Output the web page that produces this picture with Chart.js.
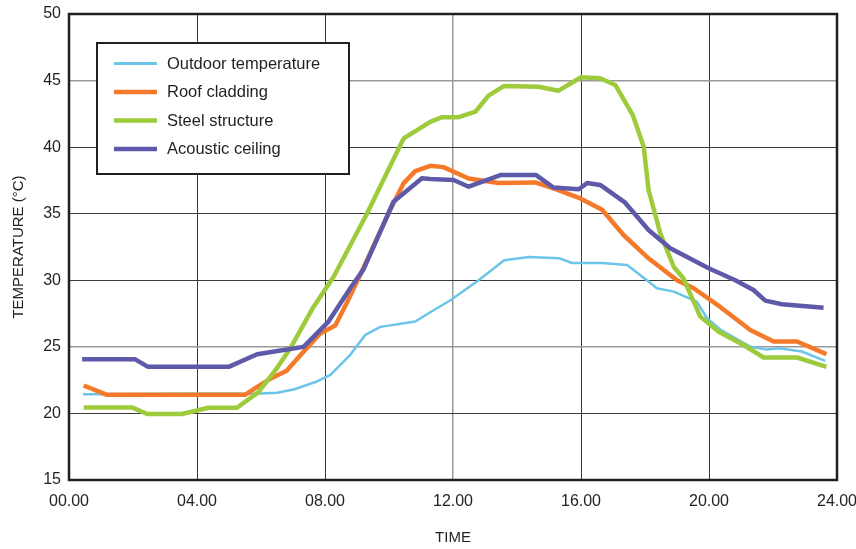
<!DOCTYPE html>
<html>
<head>
<meta charset="utf-8">
<script src="https://cdn.jsdelivr.net/npm/chart.js@4/dist/chart.umd.min.js"></script>
<style>
  html, body { margin: 0; padding: 0; background: #ffffff; }
  #wrap { width: 856px; height: 549px; position: relative; }
</style>
</head>
<body>
<div id="wrap"><canvas id="c" width="856" height="549"></canvas></div>
<script>
// ---- Data (hours of day, temperature °C) ----
const seriesLabels = ['Outdoor temperature', 'Roof cladding', 'Steel structure', 'Acoustic ceiling'];

const outdoorHours = [0.44, 5.98, 6.5, 7.02, 7.75, 8.17, 8.79, 9.26, 9.73, 10.82, 11.29, 11.92, 12.8, 13.6, 14.37, 15.33, 15.72, 16.66, 17.44, 18.06, 18.37, 18.9, 19.62, 19.94, 20.35, 21.3, 21.8, 22.2, 22.9, 23.63];
const outdoorTemp  = [21.44, 21.5, 21.55, 21.8, 22.4, 22.9, 24.4, 25.9, 26.5, 26.9, 27.6, 28.5, 30.0, 31.5, 31.75, 31.65, 31.3, 31.3, 31.15, 30.0, 29.4, 29.15, 28.4, 27.15, 26.3, 25.0, 24.8, 24.9, 24.65, 23.95];

const roofHours = [0.46, 1.19, 5.5, 5.88, 6.29, 6.8, 7.28, 7.85, 8.32, 8.68, 9.05, 10.04, 10.46, 10.82, 11.29, 11.7, 12.49, 13.42, 14.57, 15.14, 15.98, 16.66, 17.33, 18.11, 19.0, 19.52, 20.35, 21.29, 22.02, 22.75, 23.67];
const roofTemp  = [22.1, 21.4, 21.4, 22.0, 22.6, 23.2, 24.5, 26.0, 26.6, 28.3, 30.15, 35.3, 37.3, 38.2, 38.6, 38.5, 37.65, 37.3, 37.35, 36.9, 36.15, 35.3, 33.4, 31.65, 30.0, 29.4, 28.0, 26.27, 25.4, 25.4, 24.45];

const steelHours = [0.46, 1.97, 2.44, 3.53, 4.36, 5.25, 5.92, 6.45, 6.92, 7.64, 8.27, 9.31, 10.46, 11.29, 11.66, 12.18, 12.7, 13.11, 13.6, 14.67, 15.3, 16.0, 16.6, 17.07, 17.62, 17.96, 18.11, 18.48, 18.9, 19.2, 19.73, 20.3, 21.08, 21.71, 22.75, 23.67];
const steelTemp  = [20.45, 20.45, 19.96, 19.96, 20.43, 20.43, 21.6, 23.25, 24.9, 28.0, 30.27, 35.0, 40.66, 41.9, 42.25, 42.25, 42.66, 43.87, 44.6, 44.54, 44.24, 45.25, 45.17, 44.67, 42.4, 40.03, 36.8, 33.5, 31.0, 30.15, 27.27, 26.14, 25.14, 24.2, 24.2, 23.5];

const ceilingHours = [0.41, 2.07, 2.47, 4.99, 5.88, 6.81, 7.33, 8.11, 8.79, 9.2, 10.14, 11.03, 11.29, 12.02, 12.49, 13.48, 14.6, 15.14, 15.93, 16.19, 16.6, 17.38, 18.11, 18.79, 19.99, 20.82, 21.39, 21.76, 22.28, 23.58];
const ceilingTemp  = [24.06, 24.06, 23.5, 23.5, 24.44, 24.8, 25.0, 26.9, 29.4, 30.8, 35.9, 37.66, 37.6, 37.53, 37.03, 37.9, 37.9, 36.96, 36.84, 37.3, 37.16, 35.83, 33.78, 32.4, 30.9, 30.0, 29.27, 28.47, 28.2, 27.94];

const xTickValues = [0, 4, 8, 12, 16, 20, 24];
const xTickLabels = ['00.00', '04.00', '08.00', '12.00', '16.00', '20.00', '24.00'];
const yTickValues = [15, 20, 25, 30, 35, 40, 45, 50];

// ---- Styles ----
const colors = ['#6cc5e9', '#f47a29', '#9dcb3b', '#5f59a9'];
const widths = [2.5, 4.5, 4.5, 4.5];
const TEXT = '#231f20';
const FONT = "'Liberation Sans', Arial, Helvetica, sans-serif";

function pts(hs, vs) { return hs.map((h, i) => ({ x: h, y: vs[i] })); }
const allData = [pts(outdoorHours, outdoorTemp), pts(roofHours, roofTemp), pts(steelHours, steelTemp), pts(ceilingHours, ceilingTemp)];

const datasets = seriesLabels.map((lab, i) => ({
  label: lab,
  data: allData[i],
  borderColor: colors[i],
  backgroundColor: colors[i],
  borderWidth: widths[i],
  pointRadius: 0,
  tension: 0,
  borderJoinStyle: 'round',
  fill: false,
  order: [3, 2, 1, 0][i]
}));

const frameAndLegend = {
  id: 'frameAndLegend',
  afterDatasetsDraw(chart) {
    const { ctx, chartArea: a } = chart;
    ctx.save();
    // plot frame
    ctx.strokeStyle = '#231f20';
    ctx.lineWidth = 2.5;
    ctx.strokeRect(a.left, a.top, a.right - a.left, a.bottom - a.top);
    // legend box
    const bx = 97, by = 43, bw = 252, bh = 131;
    ctx.fillStyle = '#ffffff';
    ctx.fillRect(bx, by, bw, bh);
    ctx.lineWidth = 2;
    ctx.strokeRect(bx, by, bw, bh);
    const rows = [63.5, 92, 120.5, 149];
    ctx.font = '16.5px ' + FONT;
    ctx.textBaseline = 'middle';
    ctx.textAlign = 'left';
    seriesLabels.forEach((lab, i) => {
      ctx.strokeStyle = colors[i];
      ctx.lineWidth = i === 0 ? 3 : 4.5;
      ctx.beginPath();
      ctx.moveTo(114, rows[i]);
      ctx.lineTo(157, rows[i]);
      ctx.stroke();
      ctx.fillStyle = TEXT;
      ctx.fillText(lab, 167, rows[i] + 0.5);
    });
    ctx.restore();
  }
};

new Chart(document.getElementById('c'), {
  type: 'line',
  data: { datasets },
  options: {
    responsive: false,
    animation: false,
    layout: { padding: { left: 0, top: 14, right: 19, bottom: 0 } },
    plugins: { legend: { display: false }, tooltip: { enabled: false } },
    scales: {
      x: {
        type: 'linear',
        min: 0, max: 24,
        afterBuildTicks(scale) { scale.ticks = xTickValues.map(v => ({ value: v })); },
        afterFit(scale) { scale.height = 69; scale.paddingLeft = 0; scale.paddingRight = 0; },
        ticks: {
          autoSkip: false,
          maxRotation: 0,
          padding: 12,
          color: TEXT,
          font: { family: FONT, size: 16 },
          callback: (v) => xTickLabels[xTickValues.indexOf(v)]
        },
        grid: {
          drawTicks: false,
          color: (c) => (c.tick && c.tick.value === 12) ? '#9a9a9a' : '#3a3a3a',
          lineWidth: (c) => (c.tick && c.tick.value === 12) ? 1.5 : 1
        },
        border: { display: false },
        title: {
          display: true,
          text: 'TIME',
          color: TEXT,
          font: { family: FONT, size: 15 },
          padding: { top: 0, bottom: 2 }
        }
      },
      y: {
        type: 'linear',
        min: 15, max: 50,
        afterBuildTicks(scale) { scale.ticks = yTickValues.map(v => ({ value: v })); },
        afterFit(scale) { scale.width = 69; scale.paddingTop = 0; scale.paddingBottom = 0; },
        ticks: {
          padding: 8,
          color: TEXT,
          font: { family: FONT, size: 16 }
        },
        grid: {
          drawTicks: false,
          color: (c) => (c.tick && (c.tick.value === 45 || c.tick.value === 25)) ? '#9a9a9a' : '#3a3a3a',
          lineWidth: (c) => (c.tick && (c.tick.value === 45 || c.tick.value === 25)) ? 1.5 : 1
        },
        border: { display: false },
        title: {
          display: true,
          text: 'TEMPERATURE (°C)',
          color: TEXT,
          font: { family: FONT, size: 15 },
          padding: { top: 10, bottom: 0 }
        }
      }
    }
  },
  plugins: [frameAndLegend]
});
</script>
</body>
</html>
